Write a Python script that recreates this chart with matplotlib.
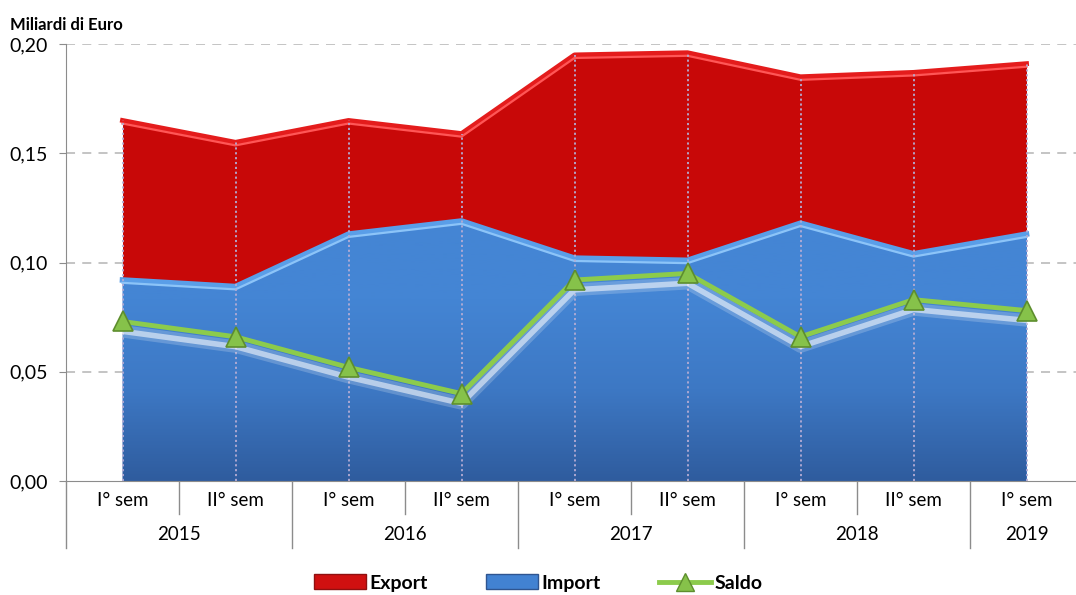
import numpy as np
import matplotlib.pyplot as plt
from matplotlib.patches import Patch
from matplotlib.lines import Line2D
from matplotlib.colors import LinearSegmentedColormap
import matplotlib.transforms as mtransforms

plt.rcParams['font.family'] = ['Lato', 'DejaVu Sans']

# data (miliardi di euro)
semesters = ['I° sem', 'II° sem', 'I° sem', 'II° sem', 'I° sem',
             'II° sem', 'I° sem', 'II° sem', 'I° sem']
years = ['2015', '2016', '2017', '2018', '2019']
year_span = [(0, 1), (2, 3), (4, 5), (6, 7), (8, 8)]
export = [0.165, 0.155, 0.165, 0.159, 0.195, 0.196, 0.185, 0.187, 0.191]
imports = [0.092, 0.089, 0.113, 0.119, 0.102, 0.101, 0.118, 0.104, 0.113]
saldo = [0.073, 0.066, 0.052, 0.040, 0.092, 0.095, 0.066, 0.083, 0.078]

x = np.arange(len(semesters))
W, H = 1076, 595

fig = plt.figure(figsize=(W / 100, H / 100), dpi=100)
ax = fig.add_axes([66 / W, 1 - 481 / H, (1083 - 66) / W, (481 - 44) / H])

# gridlines
for yv in [0.05, 0.10, 0.15, 0.20]:
    ax.axhline(yv, color='#BFBFBF', lw=1.3, ls=(0, (5, 4)), zorder=0)

# export area (red) with light bevel on top
ax.fill_between(x, 0, export, color='#C80808', lw=0, zorder=1)
ax.plot(x, export, color='#E41C1C', lw=3.5, zorder=1.2)
ax.plot(x, np.array(export) - 0.0014, color='#FF5656', lw=1.6, zorder=1.3)

# import area (blue gradient, clipped to the area)
poly = ax.fill_between(x, 0, imports, color='#4282D2', lw=0, zorder=2)
grad = np.linspace(0, 1, 256).reshape(-1, 1)
cmap = LinearSegmentedColormap.from_list('b', ['#2F5C9E', '#3D78C4', '#4485D4', '#4485D4'])
im = ax.imshow(grad, extent=[-0.5, 8.5, 0, 0.125], origin='lower', cmap=cmap,
               aspect='auto', zorder=2.1)
im.set_clip_path(poly.get_paths()[0], transform=ax.transData)
ax.plot(x, imports, color='#5A9EE8', lw=4, zorder=2.2)
ax.plot(x, np.array(imports) - 0.0013, color='#8CC4F8', lw=1.6, zorder=2.3)

# drop lines
ax.vlines(x, 0, export, colors='#B4ACD4', linestyles=(0, (1.2, 1.5)), lw=1.3, zorder=3)

# saldo line with soft white glow underneath
ax.plot(x, np.array(saldo) - 0.0045, color='white', lw=9, alpha=0.2, zorder=3.5)
ax.plot(x, np.array(saldo) - 0.0045, color='white', lw=4, alpha=0.55, zorder=3.6)
ax.plot(x, saldo, color='#8CCB4C', lw=3.5, zorder=4)
ax.plot(x, saldo, ls='none', marker='^', ms=15, mfc='#86C24A', mec='#5E8E2E',
        mew=1.2, zorder=5)

ax.set_xlim(-0.5, 8.5)
ax.set_ylim(0, 0.20)

# axes styling
for s in ['top', 'right']:
    ax.spines[s].set_visible(False)
ax.spines['left'].set_color('#8C8C8C')
ax.spines['bottom'].set_color('#8C8C8C')
ax.spines['left'].set_zorder(6)
ax.set_yticks([0, 0.05, 0.10, 0.15, 0.20])
ax.set_yticklabels(['0,00', '0,05', '0,10', '0,15', '0,20'], fontsize=14)
ax.tick_params(axis='y', length=5, color='#8C8C8C', pad=8)
ax.set_xticks([])

# multi-level category labels
trans = mtransforms.blended_transform_factory(ax.transData, ax.transAxes)
h = 481 - 44
row1 = -(500 - 481) / h
row2 = -(535 - 481) / h
sep1 = -(514 - 481) / h
sep2 = -(548 - 481) / h
for i, lab in enumerate(semesters):
    ax.text(i, row1, lab, transform=trans, ha='center', va='center', fontsize=13.5)
for i in range(len(semesters) - 1):
    ext = sep2 if semesters[i + 1] == 'I° sem' else sep1
    ax.plot([i + 0.5, i + 0.5], [0, ext], transform=trans, color='#8C8C8C',
            lw=1, clip_on=False)
ax.plot([-0.5, -0.5], [0, sep2], transform=trans, color='#8C8C8C', lw=1, clip_on=False)
for yr, (a, b) in zip(years, year_span):
    ax.text((a + b) / 2, row2, yr, transform=trans, ha='center', va='center',
            fontsize=13.5)

fig.text(10 / W, 1 - 25 / H, 'Miliardi di Euro', fontsize=12, fontweight='bold',
         va='center', ha='left')

handles = [Patch(facecolor='#D01010', edgecolor='#901010'),
           Patch(facecolor='#4282D2', edgecolor='#2F5590'),
           Line2D([0], [0], color='#8CCB4C', lw=3.5, marker='^', ms=13,
                  mfc='#86C24A', mec='#5E8E2E')]
fig.legend(handles, ['Export', 'Import', 'Saldo'], loc='center',
           bbox_to_anchor=(0.5, 1 - 583 / H), ncol=3, frameon=False,
           handlelength=2.7, handleheight=0.8, columnspacing=3.0, handletextpad=0.15,
           prop={'weight': 'bold', 'size': 14})

fig.savefig('out.png', dpi=100)
